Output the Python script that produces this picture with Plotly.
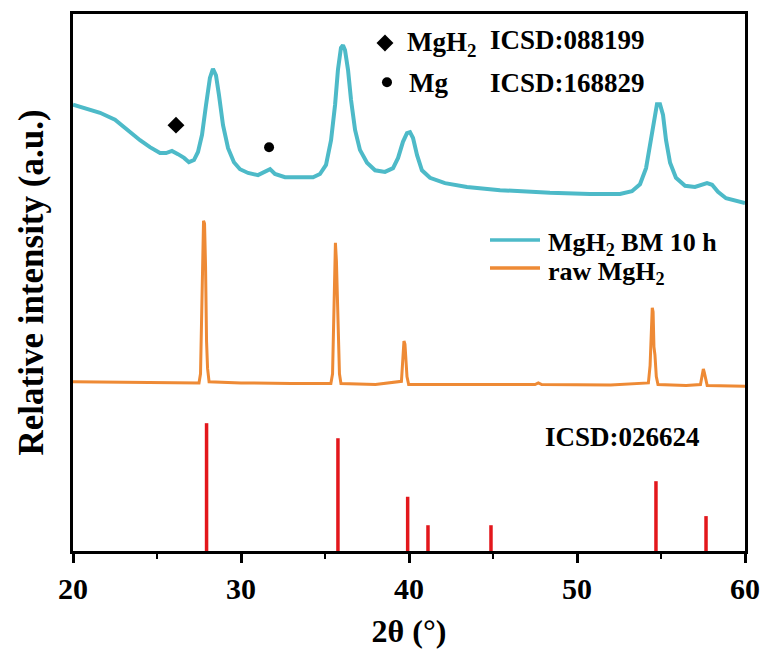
import plotly.graph_objects as go

# ---------------- data ----------------
# MgH2 ball-milled 10 h (cyan), 2theta vs relative intensity
bm_x = [20.0, 20.71, 21.61, 22.50, 23.21, 23.99, 24.58, 25.18, 25.54, 25.89, 26.25, 26.61,
        26.90, 27.20, 27.44, 27.68, 27.92, 28.15, 28.33, 28.51, 28.69, 28.93, 29.23, 29.58,
        29.94, 30.42, 31.01, 31.43, 31.73, 32.02, 32.62, 33.51, 34.29, 34.70, 35.06, 35.36,
        35.60, 35.77, 35.95, 36.07, 36.19, 36.37, 36.55, 36.79, 37.08, 37.50, 37.98, 38.57,
        39.05, 39.35, 39.64, 39.88, 40.06, 40.24, 40.48, 40.77, 41.25, 42.14, 43.45, 45.42,
        48.39, 50.77, 52.56, 53.27, 53.75, 54.11, 54.35, 54.58, 54.76, 54.94, 55.12, 55.30,
        55.54, 55.89, 56.43, 57.02, 57.44, 57.74, 58.04, 58.39, 58.87, 59.40, 60.0]
bm_y = [83.1, 82.5, 81.6, 80.3, 78.4, 76.5, 75.2, 74.1, 74.1, 74.5, 73.9, 73.2,
        72.4, 72.8, 74.3, 77.5, 83.1, 88.1, 89.8, 88.6, 84.9, 79.3, 75.0, 72.4,
        71.1, 70.4, 70.0, 70.6, 71.1, 70.2, 69.6, 69.6, 69.6, 70.2, 71.9, 76.5,
        83.1, 89.6, 93.7, 94.2, 93.3, 89.6, 84.0, 78.4, 74.7, 72.3, 70.9, 70.6,
        71.3, 73.2, 76.2, 77.8, 78.0, 76.9, 73.7, 70.9, 69.5, 68.5, 67.8, 67.2,
        66.7, 66.5, 66.5, 67.0, 68.3, 71.3, 75.6, 80.6, 83.2, 83.2, 81.2, 76.5,
        72.3, 69.5, 68.0, 67.8, 68.3, 68.5, 68.2, 66.9, 65.7, 65.2, 64.8]

# raw MgH2 (orange)
raw_x = [20.0, 24.0, 27.0, 27.50, 27.59, 27.65, 27.71, 27.77, 27.83, 27.89, 27.95, 28.01,
         28.10, 30.0, 33.0, 35.35, 35.45, 35.52, 35.57, 35.62, 35.68, 35.73, 35.79, 35.86,
         35.95, 38.0, 39.55, 39.64, 39.70, 39.76, 39.82, 39.88, 39.98, 43.0, 47.5, 47.7,
         47.9, 52.0, 54.25, 54.35, 54.42, 54.48, 54.53, 54.58, 54.64, 54.72, 54.82, 56.5,
         57.35, 57.45, 57.52, 57.58, 57.65, 57.75, 60.0]
raw_y = [31.5, 31.4, 31.3, 31.3, 33.0, 43.0, 55.0, 61.5, 61.0, 53.0, 39.0, 34.0,
         31.5, 31.3, 31.2, 31.2, 33.0, 44.0, 56.0, 57.4, 54.0, 47.0, 39.0, 33.0,
         31.2, 31.0, 31.6, 35.5, 39.1, 38.5, 35.0, 32.5, 31.0, 31.0, 31.0, 31.3,
         31.0, 30.9, 31.3, 34.5, 42.0, 45.3, 44.5, 38.0, 36.5, 32.5, 31.0, 30.8,
         31.0, 32.5, 33.9, 33.2, 32.0, 30.8, 30.7]

# reference pattern ICSD:026624 (red sticks)
ref_x = [27.95, 35.77, 39.92, 41.13, 44.88, 54.70, 57.68]
ref_y = [23.8, 21.0, 10.1, 4.8, 4.8, 13.0, 6.5]

# phase markers on the BM curve
mgh2_mark_x = [26.13]
mgh2_mark_y = [79.3]
mg_mark_x = [31.67]
mg_mark_y = [75.2]

# key markers (top)
key_diamond_x = [38.57]
key_diamond_y = [94.6]
key_circle_x = [38.69]
key_circle_y = [87.3]

CYAN = "#4DBAC8"
ORANGE = "#EE8A35"
RED = "#E3171C"
FONT = "Liberation Serif"

fig = go.Figure()

fig.add_trace(go.Scatter(x=bm_x, y=bm_y, mode="lines", line=dict(color=CYAN, width=4),
                         name="MgH<sub>2</sub> BM 10 h", showlegend=False))
fig.add_trace(go.Scatter(x=raw_x, y=raw_y, mode="lines", line=dict(color=ORANGE, width=3),
                         name="raw MgH<sub>2</sub>", showlegend=False))

sx, sy = [], []
for xv, yv in zip(ref_x, ref_y):
    sx += [xv, xv, None]
    sy += [0, yv, None]
fig.add_trace(go.Scatter(x=sx, y=sy, mode="lines", line=dict(color=RED, width=3.5),
                         showlegend=False, name="ICSD:026624"))

fig.add_trace(go.Scatter(x=mgh2_mark_x + key_diamond_x, y=mgh2_mark_y + key_diamond_y,
                         mode="markers", marker=dict(symbol="diamond", size=13, color="black"),
                         showlegend=False, cliponaxis=False))
fig.add_trace(go.Scatter(x=mg_mark_x + key_circle_x, y=mg_mark_y + key_circle_y,
                         mode="markers", marker=dict(symbol="circle", size=10, color="black"),
                         showlegend=False, cliponaxis=False))

W, H = 767, 666
L, R, T, B = 73, 22, 14, 115
pw, ph = W - L - R, H - T - B

def px(xp):
    return (xp - L) / pw

def py(yp):
    return (H - B - yp) / ph

tf = dict(family=FONT, size=27, color="black", weight="bold")
lf = dict(family=FONT, size=26, color="black", weight="bold")

ann = []
ann.append(dict(text="MgH<sub>2</sub>", x=px(405), y=py(44), xanchor="left", yanchor="middle", font=tf))
ann.append(dict(text="ICSD:088199", x=px(488), y=py(40), xanchor="left", yanchor="middle", font=tf))
ann.append(dict(text="Mg", x=px(407), y=py(83), xanchor="left", yanchor="middle", font=tf))
ann.append(dict(text="ICSD:168829", x=px(488), y=py(83), xanchor="left", yanchor="middle", font=tf))
ann.append(dict(text="MgH<sub>2</sub> BM 10 h", x=px(546), y=py(244), xanchor="left", yanchor="middle", font=lf))
ann.append(dict(text="raw MgH<sub>2</sub>", x=px(546), y=py(273), xanchor="left", yanchor="middle", font=lf))
ann.append(dict(text="ICSD:026624", x=px(543), y=py(437), xanchor="left", yanchor="middle", font=tf))
for a in ann:
    a.update(xref="paper", yref="paper", showarrow=False)

shapes = [
    dict(type="line", xref="paper", yref="paper", x0=px(490), x1=px(540), y0=py(240), y1=py(240),
         line=dict(color=CYAN, width=3.5)),
    dict(type="line", xref="paper", yref="paper", x0=px(490), x1=px(540), y0=py(268), y1=py(268),
         line=dict(color=ORANGE, width=3.5)),
]

fig.update_layout(
    width=W, height=H,
    margin=dict(l=L, r=R, t=T, b=B, autoexpand=False),
    paper_bgcolor="white", plot_bgcolor="white",
    annotations=ann, shapes=shapes,
    font=dict(family=FONT, color="black"),
)
fig.update_xaxes(range=[20, 60], dtick=10, tick0=20, showgrid=False, zeroline=False,
                 showline=True, linecolor="black", linewidth=3, mirror=True,
                 ticks="outside", ticklen=9, tickwidth=3, tickcolor="black",
                 minor=dict(dtick=5, ticks="outside", ticklen=5, tickwidth=2, tickcolor="black"),
                 tickfont=dict(family=FONT, size=30, color="black", weight="bold"),
                 title=dict(text="2θ (°)", font=dict(family=FONT, size=32, color="black", weight="bold"),
                            standoff=16),
                 automargin=False)
fig.update_yaxes(range=[0, 100], showgrid=False, zeroline=False, showticklabels=False,
                 showline=True, linecolor="black", linewidth=3, mirror=True, ticks="",
                 title=dict(text="Relative intensity (a.u.)",
                            font=dict(family=FONT, size=35, color="black", weight="bold"),
                            standoff=16),
                 automargin=False)

fig.write_html("out.html")
